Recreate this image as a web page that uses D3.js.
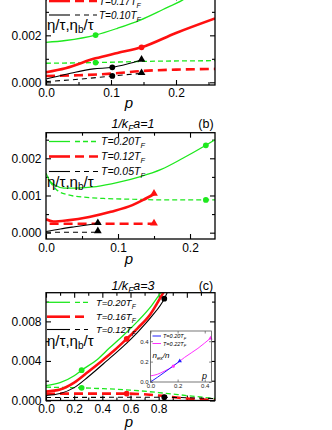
<!DOCTYPE html>
<html><head><meta charset="utf-8">
<script src="https://cdn.jsdelivr.net/npm/d3@7"></script>
<style>body{margin:0;background:#fff}svg{display:block}text{font-family:"Liberation Sans",Arial,sans-serif}</style>
</head><body>
<script>
// ---------- DATA ----------
// Panel (a)
const A_green_p = [0, 0.03, 0.0763, 0.11, 0.145, 0.18, 0.21, 0.24];
const A_green_v = [0.0017, 0.00178, 0.00201, 0.0023, 0.00265, 0.0031, 0.0035, 0.0040];
const A_greenD_p = [0, 0.0763, 0.15, 0.26];
const A_greenD_v = [0.00081, 0.00084, 0.00089, 0.00092];
const A_red_p = [0, 0.03, 0.076, 0.11, 0.147, 0.2, 0.26];
const A_red_v = [0.00043, 0.0006, 0.00102, 0.00125, 0.00149, 0.0021, 0.00272];
const A_redD_p = [0, 0.05, 0.1, 0.147, 0.2, 0.26];
const A_redD_v = [0.00027, 0.0003, 0.00037, 0.00048, 0.00054, 0.00057];
const A_black_p = [0, 0.02, 0.045, 0.073, 0.102, 0.125, 0.147];
const A_black_v = [0.00014, 0.00027, 0.00043, 0.00057, 0.00064, 0.00078, 0.00095];
const A_blackD_p = [0, 0.05, 0.102, 0.147];
const A_blackD_v = [0.00003, 0.00013, 0.00027, 0.00038];
const A_dot_p = [0.0763, 0.0763, 0.147, 0.102, 0.102];
const A_dot_v = [0.00201, 0.00084, 0.00149, 0.00064, 0.00027];
const A_dot_c = ["green", "green", "red", "black", "black"];
const A_tri_p = [0.147, 0.147];
const A_tri_v = [0.00095, 0.00038];
const A_legend = ["T=0.17T", "T=0.10T"];

// Panel (b)
const B_green_p = [0, 0.005, 0.012, 0.025, 0.04, 0.07, 0.1, 0.13, 0.16, 0.19, 0.222, 0.235];
const B_green_v = [0.0016, 0.0014, 0.00128, 0.0012, 0.0012, 0.00124, 0.00135, 0.0015, 0.0017, 0.002, 0.00235, 0.0025];
const B_greenD_p = [0.005, 0.015, 0.03, 0.05, 0.08, 0.12, 0.16, 0.2, 0.235];
const B_greenD_v = [0.00138, 0.00115, 0.00102, 0.00096, 0.00092, 0.0009, 0.00088, 0.00088, 0.00088];
const B_red_p = [0, 0.01, 0.03, 0.06, 0.09, 0.12, 0.135, 0.15];
const B_red_v = [0.00036, 0.0003, 0.00033, 0.00042, 0.00056, 0.00074, 0.00088, 0.00104];
const B_redD_p = [0.005, 0.15];
const B_redD_v = [0.00024, 0.00024];
const B_black_p = [0, 0.02, 0.04, 0.072];
const B_black_v = [0.00003, 0.0001, 0.00016, 0.00025];
const B_blackD_p = [0, 0.072];
const B_blackD_v = [0.00001, 0.00001];
const B_dot_p = [0.222, 0.222];
const B_dot_v = [0.00235, 0.00088];
const B_dot_c = ["green", "green"];
const B_tri_p = [0.15, 0.15, 0.072, 0.072];
const B_tri_v = [0.00104, 0.00024, 0.00025, 0.00003];
const B_tri_c = ["red", "red", "black", "black"];
const B_legend = ["T=0.20T", "T=0.12T", "T=0.05T"];

// Panel (c)
const C_green_p = [0, 0.1, 0.2, 0.253, 0.36, 0.45, 0.55, 0.65, 0.75, 0.81, 0.83];
const C_green_v = [0.0015, 0.0018, 0.0025, 0.00306, 0.0041, 0.0053, 0.0066, 0.0080, 0.0096, 0.0108, 0.0112];
const C_greenD_p = [0, 0.1, 0.253, 0.4, 0.6, 0.8, 1.0, 1.2];
const C_greenD_v = [0.00135, 0.00132, 0.00128, 0.0012, 0.00105, 0.0008, 0.0005, 0.0002];
const C_red_p = [0, 0.1, 0.2, 0.3, 0.396, 0.48, 0.573, 0.65, 0.74, 0.833, 0.85];
const C_red_v = [0.0009, 0.0011, 0.0018, 0.0029, 0.0040, 0.0050, 0.00623, 0.0073, 0.0087, 0.0109, 0.0113];
const C_redD_p = [0, 0.2, 0.4, 0.573, 0.8, 1.0, 1.2];
const C_redD_v = [0.00068, 0.0007, 0.0007, 0.0007, 0.0005, 0.0002, 0.00005];
const C_black_p = [0, 0.1, 0.2, 0.3, 0.431, 0.55, 0.65, 0.75, 0.84, 0.857, 0.87];
const C_black_v = [0.0005, 0.0007, 0.0013, 0.0024, 0.0040, 0.0055, 0.0069, 0.0085, 0.0103, 0.0108, 0.0112];
const C_blackD_p = [0, 0.4, 0.84, 1.0, 1.2];
const C_blackD_v = [0.0003, 0.00032, 0.00033, 0.00028, 0.0002];
const C_dot_p = [0.253, 0.253, 0.573, 0.573, 0.84, 0.84];
const C_dot_v = [0.00306, 0.00128, 0.00623, 0.0007, 0.0103, 0.00033];
const C_dot_c = ["green", "green", "red", "red", "black", "black"];
const C_legend = ["T=0.20T", "T=0.16T", "T=0.12T"];

// Inset of (c): n_ex/n vs p
const I_blue_p = [0, 0.05, 0.1, 0.15, 0.2, 0.216];
const I_blue_v = [0, 0.045, 0.092, 0.14, 0.19, 0.205];
const I_mag_p = [0, 0.05, 0.1, 0.168, 0.25, 0.35, 0.443];
const I_mag_v = [0.06, 0.075, 0.105, 0.155, 0.24, 0.33, 0.43];
const I_legend = ["T=0.20T", "T=0.22T"];
const I_ticks = [0, 0.2, 0.4];

// ---------- DRAWING ----------
const COL = {green: "#1ee81e", red: "#ff1010", black: "#000", blue: "#2020ff", magenta: "#ff30ff"};
const svg = d3.select("body").append("svg").attr("width", 332).attr("height", 430);
svg.append("rect").attr("width", 332).attr("height", 430).attr("fill", "#fff");
const L = 46, R = 215;
const zip = (p, v) => p.map((d, i) => [d, v[i]]);

function styleFor(name) {
  return {
    green: {color: COL.green, w: 1.3}, red: {color: COL.red, w: 2.6}, black: {color: COL.black, w: 1.1}
  }[name];
}
const dashFor = {green: "5,3", red: "9,5", black: "5,4"};

function drawPanel(P) {
  const g = svg.append("g");
  const x = d3.scaleLinear().domain(P.xd).range([L, R]);
  const y = d3.scaleLinear().domain(P.yd).range([P.bottom, P.top]);
  const cid = "clip" + P.id;
  svg.append("clipPath").attr("id", cid).append("rect")
    .attr("x", L).attr("y", P.top).attr("width", R - L).attr("height", P.bottom - P.top);
  const fmtX = d => P.xLab.some(v => Math.abs(v - d) < 1e-9) ? d3.format(".1f")(d) : "";
  const fmtY = d => P.yLab.some(v => Math.abs(v - d) < 1e-12) ? d3.format(".3f")(d) : "";
  const ax = (gen, tr) => {
    const a = g.append("g").attr("transform", tr).call(gen);
    a.select(".domain").remove();
    a.selectAll("line").attr("stroke", "#000").attr("stroke-width", 1.1);
    a.selectAll("text").attr("font-size", 12).attr("fill", "#000");
    return a;
  };
  ax(d3.axisBottom(x).tickValues(P.xMaj).tickSizeInner(-5).tickSizeOuter(0).tickPadding(P.xPad).tickFormat(fmtX), `translate(0,${P.bottom})`);
  ax(d3.axisBottom(x).tickValues(P.xMin).tickSizeInner(-3).tickSizeOuter(0).tickFormat(""), `translate(0,${P.bottom})`);
  ax(d3.axisTop(x).tickValues(P.xMaj).tickSizeInner(-5).tickSizeOuter(0).tickFormat(""), `translate(0,${P.top})`);
  ax(d3.axisTop(x).tickValues(P.xMin).tickSizeInner(-3).tickSizeOuter(0).tickFormat(""), `translate(0,${P.top})`);
  ax(d3.axisLeft(y).tickValues(P.yMaj).tickSizeInner(-5).tickSizeOuter(0).tickPadding(4.5).tickFormat(fmtY), `translate(${L},0)`);
  ax(d3.axisLeft(y).tickValues(P.yMin).tickSizeInner(-3).tickSizeOuter(0).tickFormat(""), `translate(${L},0)`);
  ax(d3.axisRight(y).tickValues(P.yMaj).tickSizeInner(-5).tickSizeOuter(0).tickFormat(""), `translate(${R},0)`);
  ax(d3.axisRight(y).tickValues(P.yMin).tickSizeInner(-3).tickSizeOuter(0).tickFormat(""), `translate(${R},0)`);

  const plot = g.append("g").attr("clip-path", `url(#${cid})`);
  const line = d3.line().x(d => x(d[0])).y(d => y(d[1])).curve(d3.curveMonotoneX);
  P.series.forEach(s => {
    const st = styleFor(s.name);
    plot.append("path").attr("d", line(zip(s.p, s.v))).attr("fill", "none")
      .attr("stroke", st.color).attr("stroke-width", st.w)
      .attr("stroke-dasharray", s.dashed ? dashFor[s.name] : null);
  });
  (P.dots || []).forEach(m => {
    m.p.forEach((p, i) => {
      plot.append("path").attr("d", d3.symbol(d3.symbolCircle, 26)())
        .attr("transform", `translate(${x(p)},${y(m.v[i])})`).attr("fill", COL[m.c[i]]);
    });
  });
  (P.tris || []).forEach(m => {
    m.p.forEach((p, i) => {
      g.append("path").attr("d", d3.symbol(d3.symbolTriangle, 26)())
        .attr("transform", `translate(${x(p)},${y(m.v[i]) - 0.5})`).attr("fill", COL[m.c[i]]);
    });
  });
  g.append("rect").attr("x", L).attr("y", P.top).attr("width", R - L).attr("height", P.bottom - P.top)
    .attr("fill", "none").attr("stroke", "#000").attr("stroke-width", 1.3);
  g.append("text").attr("x", 129).attr("y", P.pY).attr("text-anchor", "middle")
    .attr("font-size", 15).attr("font-style", "italic").text("p");
  const Lg = P.legend;
  const names = ["green", "red", "black"].slice(3 - Lg.labels.length);
  Lg.labels.forEach((lab, i) => {
    const nm = names[i];
    const st = styleFor(nm);
    const yy = Lg.rows[i];
    g.append("line").attr("x1", Lg.s1).attr("x2", Lg.s2).attr("y1", yy).attr("y2", yy)
      .attr("stroke", st.color).attr("stroke-width", st.w);
    g.append("line").attr("x1", Lg.d1).attr("x2", Lg.d2).attr("y1", yy).attr("y2", yy)
      .attr("stroke", st.color).attr("stroke-width", st.w).attr("stroke-dasharray", dashFor[nm]);
    const t = g.append("text").attr("x", Lg.tx).attr("y", yy + Lg.fs * 0.36)
      .attr("font-size", Lg.fs).attr("font-style", "italic").text(lab);
    t.append("tspan").attr("dy", Lg.fs * 0.3).attr("font-size", Lg.fs * 0.7).text("F");
  });
  const et = g.append("text").attr("x", 47).attr("y", Lg.etaY + 5).attr("font-size", 15)
    .attr("font-family", "'Liberation Serif','Times New Roman',serif");
  et.append("tspan").text("η/τ,η");
  et.append("tspan").attr("dy", 3).attr("font-size", 10).text("b");
  et.append("tspan").attr("dy", -3).text("/τ");
  if (P.title) {
    const tt = g.append("text").attr("x", 133).attr("y", P.titleY).attr("text-anchor", "middle")
      .attr("font-size", 12.5).attr("font-style", "italic");
    tt.append("tspan").text("1/k");
    tt.append("tspan").attr("dy", 3).attr("font-size", 8.5).text("F");
    tt.append("tspan").attr("dy", -3).text(P.title);
    g.append("text").attr("x", 206).attr("y", P.titleY).attr("text-anchor", "middle")
      .attr("font-size", 12.5).text(P.tag);
  }
  return {x, y, g};
}

drawPanel({
  id: "a", xd: [0, 0.26], yd: [-0.000115, 0.0037], top: -4.6, bottom: 85,
  xMaj: [0, 0.1, 0.2], xMin: [0.05, 0.15, 0.25], xLab: [0, 0.1, 0.2], xPad: 3.5,
  yMaj: [0, 0.002], yMin: [0.001, 0.003], yLab: [0, 0.002], pY: 108,
  series: [
    {name: "green", p: A_green_p, v: A_green_v}, {name: "green", p: A_greenD_p, v: A_greenD_v, dashed: true},
    {name: "red", p: A_red_p, v: A_red_v}, {name: "red", p: A_redD_p, v: A_redD_v, dashed: true},
    {name: "black", p: A_black_p, v: A_black_v}, {name: "black", p: A_blackD_p, v: A_blackD_v, dashed: true}
  ],
  dots: [{p: A_dot_p, v: A_dot_v, c: A_dot_c}],
  tris: [{p: A_tri_p, v: A_tri_v, c: ["black", "black"]}],
  legend: {labels: A_legend, rows: [1, 15], s1: 49, s2: 70, d1: 75, d2: 97, tx: 99, fs: 10, etaY: 25}
});

drawPanel({
  id: "b", xd: [0, 0.2347], yd: [-0.00017, 0.002688], top: 132.7, bottom: 239,
  xMaj: [0, 0.1, 0.2], xMin: [0.05, 0.15], xLab: [0, 0.1, 0.2], xPad: 4.5,
  yMaj: [0, 0.001, 0.002], yMin: [0.0005, 0.0015, 0.0025], yLab: [0, 0.001, 0.002], pY: 264,
  series: [
    {name: "green", p: B_green_p, v: B_green_v}, {name: "green", p: B_greenD_p, v: B_greenD_v, dashed: true},
    {name: "red", p: B_red_p, v: B_red_v}, {name: "red", p: B_redD_p, v: B_redD_v, dashed: true},
    {name: "black", p: B_black_p, v: B_black_v}, {name: "black", p: B_blackD_p, v: B_blackD_v, dashed: true}
  ],
  dots: [{p: B_dot_p, v: B_dot_v, c: B_dot_c}],
  tris: [{p: B_tri_p, v: B_tri_v, c: B_tri_c}],
  legend: {labels: B_legend, rows: [141.5, 156.5, 171.5], s1: 49, s2: 70, d1: 75, d2: 98, tx: 101, fs: 10.5, etaY: 182},
  title: "a=1", tag: "(b)", titleY: 127.5
});

drawPanel({
  id: "c", xd: [0, 1.2], yd: [0, 0.0109], top: 292.7, bottom: 400.5,
  xMaj: [0, 0.2, 0.4, 0.6, 0.8, 1.0], xMin: [0.1, 0.3, 0.5, 0.7, 0.9, 1.1], xLab: [0, 0.2, 0.4, 0.6, 0.8], xPad: 3.5,
  yMaj: [0, 0.004, 0.008], yMin: [0.002, 0.006, 0.010], yLab: [0, 0.004, 0.008], pY: 427,
  series: [
    {name: "green", p: C_green_p, v: C_green_v}, {name: "green", p: C_greenD_p, v: C_greenD_v, dashed: true},
    {name: "red", p: C_red_p, v: C_red_v}, {name: "red", p: C_redD_p, v: C_redD_v, dashed: true},
    {name: "black", p: C_black_p, v: C_black_v}, {name: "black", p: C_blackD_p, v: C_blackD_v, dashed: true}
  ],
  dots: [{p: C_dot_p, v: C_dot_v, c: C_dot_c}],
  legend: {labels: C_legend, rows: [302.3, 316.7, 329.5], s1: 47, s2: 70, d1: 75, d2: 88, tx: 96, fs: 9.5, etaY: 341},
  title: "a=3", tag: "(c)", titleY: 289.5
});

(function () {
  const g = svg.append("g");
  const x = d3.scaleLinear().domain([0, 0.45]).range([150.5, 211.5]);
  const y = d3.scaleLinear().domain([0, 0.5]).range([382, 331]);
  g.append("rect").attr("x", 150.5).attr("y", 331).attr("width", 61).attr("height", 51).attr("fill", "#fff");
  const ax = (gen, tr) => {
    const a = g.append("g").attr("transform", tr).call(gen);
    a.select(".domain").remove();
    a.selectAll("line").attr("stroke", "#555").attr("stroke-width", 0.7);
    a.selectAll("text").attr("font-size", 6).attr("fill", "#222");
  };
  ax(d3.axisBottom(x).tickValues(I_ticks).tickSizeInner(-2.5).tickSizeOuter(0).tickPadding(2).tickFormat(d3.format(".1f")), "translate(0,382)");
  ax(d3.axisLeft(y).tickValues(I_ticks).tickSizeInner(-2.5).tickSizeOuter(0).tickPadding(2).tickFormat(d3.format(".1f")), "translate(150.5,0)");
  ax(d3.axisTop(x).tickValues(I_ticks).tickSizeInner(-2.5).tickSizeOuter(0).tickFormat(""), "translate(0,331)");
  ax(d3.axisRight(y).tickValues(I_ticks).tickSizeInner(-2.5).tickSizeOuter(0).tickFormat(""), "translate(211.5,0)");
  const line = d3.line().x(d => x(d[0])).y(d => y(d[1])).curve(d3.curveMonotoneX);
  g.append("path").attr("d", line(zip(I_mag_p, I_mag_v))).attr("fill", "none").attr("stroke", COL.magenta).attr("stroke-width", 1);
  g.append("path").attr("d", line(zip(I_blue_p, I_blue_v))).attr("fill", "none").attr("stroke", COL.blue).attr("stroke-width", 1);
  const mk = (p, v, c, sym) => g.append("path").attr("d", d3.symbol(sym, 8)())
    .attr("transform", `translate(${x(p)},${y(v)})`).attr("fill", c);
  mk(I_mag_p[3], I_mag_v[3], COL.magenta, d3.symbolCircle);
  mk(I_mag_p[6], I_mag_v[6], COL.magenta, d3.symbolTriangle);
  mk(I_blue_p[5], I_blue_v[5], COL.blue, d3.symbolTriangle);
  g.append("rect").attr("x", 150.5).attr("y", 331).attr("width", 61).attr("height", 51)
    .attr("fill", "none").attr("stroke", "#555").attr("stroke-width", 0.8);
  [COL.blue, COL.magenta].forEach((c, i) => {
    const yy = 336 + i * 7.5;
    g.append("line").attr("x1", 152.5).attr("x2", 161).attr("y1", yy).attr("y2", yy).attr("stroke", c).attr("stroke-width", 1);
    const t = g.append("text").attr("x", 163).attr("y", yy + 2).attr("font-size", 5.5).attr("font-style", "italic").text(I_legend[i]);
    t.append("tspan").attr("dy", 1.5).attr("font-size", 4).text("F");
  });
  const nt = g.append("text").attr("x", 152.5).attr("y", 358).attr("font-size", 8).attr("font-style", "italic");
  nt.append("tspan").text("n");
  nt.append("tspan").attr("dy", 2).attr("font-size", 5.5).text("ex");
  nt.append("tspan").attr("dy", -2).text("/n");
  g.append("text").attr("x", 202).attr("y", 379).attr("font-size", 9).attr("font-style", "italic").text("p");
})();
</script>
</body></html>
